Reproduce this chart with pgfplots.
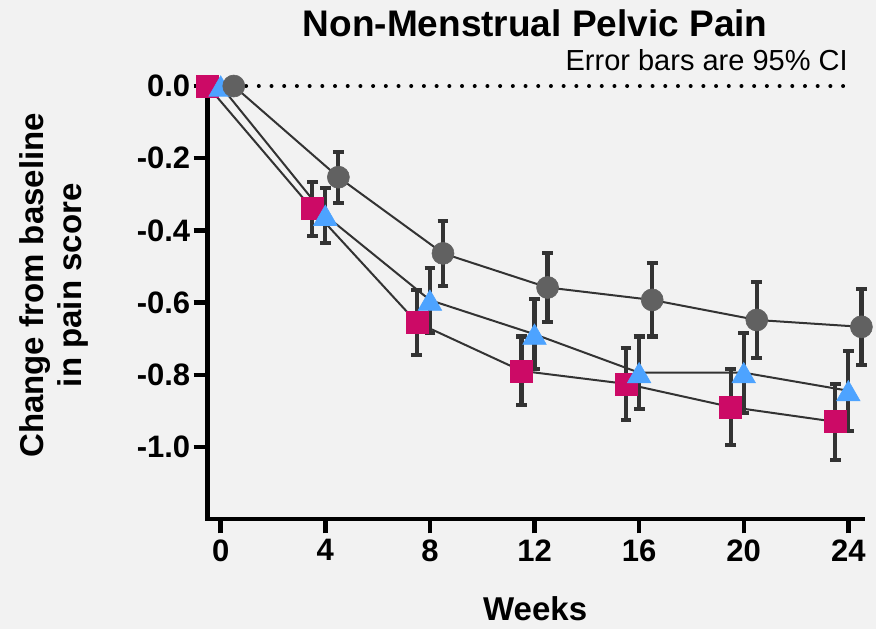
\documentclass[border=0pt]{standalone}
\usepackage{pgfplots}
\pgfplotsset{compat=1.18}
\usepackage{fontspec}
\setmainfont{Liberation Sans}
\definecolor{bgc}{HTML}{F2F2F2}
\definecolor{pinkc}{HTML}{CC0A66}
\definecolor{bluec}{HTML}{4DA3FF}
\definecolor{greyc}{HTML}{616161}
\definecolor{errc}{HTML}{333333}
\begin{document}
\begin{tikzpicture}
\fill[bgc] (-103.8pt,-55pt) rectangle (334.15pt,259.6pt);
\begin{axis}[
  at={(0,0)}, anchor=south west,
  scale only axis, width=327.5pt, height=220.2pt,
  xmin=-0.5, xmax=24.55, ymin=-1.2, ymax=0.02,
  axis lines=left,
  axis line style={line width=2.2pt, -, line cap=rect, black},
  tick align=outside, major tick length=7pt,
  tick style={line width=2.2pt, black},
  xtick={0,4,8,12,16,20,24}, xticklabels={0,4,8,12,16,20,24},
  ytick={0,-0.2,-0.4,-0.6,-0.8,-1.0}, yticklabels={0.0,-0.2,-0.4,-0.6,-0.8,-1.0},
  ticklabel style={font=\fontsize{15.5}{18}\selectfont\bfseries},
  yticklabel style={inner sep=1.5pt},
  xticklabel style={inner sep=3pt},
  xlabel={Weeks},
  xlabel style={font=\fontsize{16.5}{19}\selectfont\bfseries, at={(axis description cs:0.5,-0.2293)}, anchor=base},
  ylabel={Change from baseline\\in pain score},
  ylabel style={font=\fontsize{16.5}{19}\selectfont\bfseries, align=center, at={(axis description cs:-0.2345,0.531)}, anchor=center, rotate=0},
  clip=false,
  axis background/.style={fill=bgc},
  error bars/y dir=both, error bars/y explicit,
  error bars/error bar style={line width=2.1pt, errc},
  error bars/error mark options={rotate=90, mark size=2.7pt, line width=2.1pt, errc},
]
\addplot[draw=black, line width=2pt, line cap=round, dash pattern=on 0pt off 6.35pt, forget plot, error bars/y dir=none] coordinates {(0,0) (24.2,0)};
% Pink squares
\addplot[draw=errc, line width=1pt, mark=square*, mark size=5.5pt,
  mark options={solid, fill=pinkc, draw=pinkc, line width=0.3pt}]
  coordinates {
  (-0.5,0) +- (0,0)
  (3.5,-0.34) +- (0,0.075)
  (7.5,-0.655) +- (0,0.09)
  (11.5,-0.789) +- (0,0.095)
  (15.5,-0.825) +- (0,0.10)
  (19.5,-0.889) +- (0,0.105)
  (23.5,-0.93) +- (0,0.105)
  };
% Blue triangles
\addplot[draw=errc, line width=1pt, mark=triangle*, mark size=6.8pt,
  mark options={solid, fill=bluec, draw=bluec, line width=0.3pt, yshift=-1.7pt}]
  coordinates {
  (0,0) +- (0,0)
  (4,-0.358) +- (0,0.076)
  (8,-0.593) +- (0,0.09)
  (12,-0.6875) +- (0,0.0965)
  (16,-0.794) +- (0,0.10)
  (20,-0.794) +- (0,0.111)
  (24,-0.844) +- (0,0.111)
  };
% Grey circles
\addplot[draw=errc, line width=1pt, mark=*, mark size=5.5pt,
  mark options={solid, fill=greyc, draw=greyc, line width=0.3pt}]
  coordinates {
  (0.5,0) +- (0,0)
  (4.5,-0.2525) +- (0,0.0705)
  (8.5,-0.4635) +- (0,0.0905)
  (12.5,-0.558) +- (0,0.096)
  (16.5,-0.5925) +- (0,0.1015)
  (20.5,-0.648) +- (0,0.105)
  (24.5,-0.667) +- (0,0.105)
  };
\node[font=\fontsize{18.5}{22}\selectfont\bfseries, anchor=base] at (axis description cs:0.5,1.0967) {Non-Menstrual Pelvic Pain};
\node[font=\fontsize{14.5}{17}\selectfont, anchor=base east, inner sep=0pt] at (axis description cs:0.9777,1.0195) {Error bars are 95\% CI};
\end{axis}
\pgfresetboundingbox
\path (-103.8pt,-55pt) rectangle (334.15pt,259.6pt);
\end{tikzpicture}
\end{document}
